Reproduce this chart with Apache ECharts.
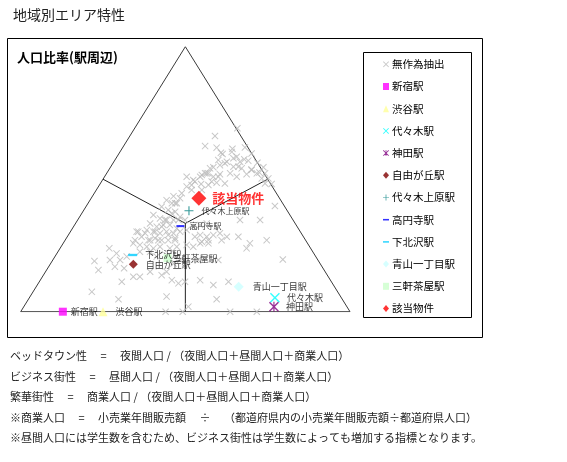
<!DOCTYPE html>
<html><head><meta charset="utf-8">
<script src="https://cdn.jsdelivr.net/npm/echarts@6/dist/echarts.min.js"></script>
<style>html,body{margin:0;padding:0;background:#fff}#c{width:567px;height:462px}</style>
</head><body><div id="c"></div>
<script>
// ---- data (triangle frame units: base 0..100, height 0..100) ----
const pageTitle = '地域別エリア特性';
const chartTitle = '人口比率(駅周辺)';
const sampleName = '無作為抽出';
const samplePoints = [
 [59.0,66.3],[65.8,69.2],[61.3,59.5],[64.3,61.5],[68.1,62.0],[70.1,59.7],[64.6,57.9],[62.6,56.6],[66.6,56.6],[69.1,57.0],
 [71.9,56.2],[73.7,54.5],[72.5,52.5],[74.2,52.2],[75.2,50.3],[76.2,48.2],[58.5,54.5],[60.5,55.3],[64.6,54.7],[67.1,54.1],
 [70.1,53.7],[56.5,52.2],[58.5,50.9],[60.5,51.9],[63.6,52.2],[65.6,50.9],[68.6,51.9],[54.5,50.9],[52.9,49.1],[54.8,48.2],
 [57.0,47.8],[59.5,48.7],[50.4,47.2],[51.9,45.9],[48.9,44.7],[46.4,43.6],[48.4,42.8],[44.3,42.1],[45.9,40.9],[47.4,40.9],
 [42.8,39.6],[44.8,38.4],[46.9,37.7],[40.3,36.5],[42.3,35.2],[44.3,34.6],[46.4,34.6],[48.4,35.8],[49.9,34.6],[39.3,33.3],
 [41.3,32.1],[43.3,32.7],[45.3,32.7],[47.4,31.4],[38.3,30.8],[40.3,30.2],[42.3,29.6],[44.3,30.2],[46.4,29.6],[48.4,30.2],
 [50.4,30.8],[52.4,32.1],[54.5,32.7],[56.5,33.3],[35.2,30.2],[36.7,28.3],[38.8,27.0],[40.8,27.7],[42.8,27.0],[44.8,27.0],
 [46.9,27.7],[54.5,28.9],[56.5,28.3],[58.5,28.9],[60.5,29.6],[62.6,28.3],[66.1,28.3],[69.6,25.8],[74.7,27.0],[34.2,25.8],
 [36.2,25.2],[38.3,24.5],[40.3,23.9],[42.3,24.5],[45.3,23.9],[47.4,24.5],[50.4,25.2],[52.4,24.5],[54.5,25.8],[57.0,25.8],
 [68.6,23.9],[26.9,23.9],[29.1,22.0],[30.2,19.5],[32.2,20.8],[36.2,22.6],[39.3,22.6],[41.3,20.8],[46.4,18.2],[48.4,19.5],
 [53.9,19.5],[56.0,20.1],[60.0,19.5],[79.6,19.7],[22.4,19.1],[23.6,15.7],[28.6,17.0],[31.4,16.4],[34.2,13.2],[36.2,13.2],
 [39.3,15.1],[42.8,13.8],[45.9,11.9],[47.9,10.7],[49.9,11.3],[54.5,11.9],[58.5,10.1],[21.6,7.5],[29.7,4.7],[44.3,5.7],
 [50.9,1.9],[59.5,4.7],[49.2,0],[44.0,0],[63.6,0],[71.7,0],[66.6,34.6],[72.7,34.6],[63.1,11.3],[27.1,19.5],
 [30.7,11.3],[44.3,15.1],[56.0,62.5],[59.5,61.9],[60.8,60.0],[64.1,60.3],[65.6,58.5],[67.9,57.5],[70.1,53.5],[71.7,52.2],
 [73.2,50.3],[74.2,48.4],[60.0,57.2],[62.0,56.0],[66.1,54.7],[57.5,54.1],[55.0,51.6],[57.0,52.2],[52.4,49.7],[77.2,39.9],
 [50.4,50.9],[51.9,47.8],[56.0,52.2],[58.0,49.1],[60.0,50.9],[62.0,48.4],[55.0,45.9],[46.9,40.9],[45.9,37.1],[43.8,34.6],
 [47.9,34.6],[42.8,32.1],[40.8,30.2],[37.8,29.6],[35.7,30.2],[39.3,27.0],[34.7,27.0],[44.8,28.9],[52.9,28.3],[55.0,26.4],
 [57.0,27.0],[46.9,27.0],[41.8,27.0],[61.0,27.0]
];
const stationNames = ['新宿駅','渋谷駅','代々木駅','神田駅','自由が丘駅','代々木上原駅','高円寺駅','下北沢駅','青山一丁目駅','三軒茶屋駅','該当物件'];
const stationPoints = [[12.8,0],[25.0,0],[77.2,5.3],[76.9,1.9],[34.2,17.9],[51.1,38.1],[48.5,32.3],[34.0,21.4],[66.2,9.4],[44.6,20.2],[54.1,42.8]];
const noteLines = [
 'ベッドタウン性　 =　 夜間人口 / （夜間人口＋昼間人口＋商業人口）',
 'ビジネス街性　 =　 昼間人口 / （夜間人口＋昼間人口＋商業人口）',
 '繁華街性　 =　 商業人口 / （夜間人口＋昼間人口＋商業人口）',
 '※商業人口　 =　 小売業年間販売額　 ÷　 （都道府県内の小売業年間販売額÷都道府県人口）',
 '※昼間人口には学生数を含むため、ビジネス街性は学生数によっても増加する指標となります。'
];
const triangleVertices = [[0,0],[100,0],[50,100],[0,0]];
const edgeMidpoints = [[25,50],[75,50],[50,0]];
const centroid = [50, 100/3];

// ---- styles ----
const FONT = '"Noto Sans CJK JP","Noto Sans",sans-serif';
const SYM_X = 'path://M0,1L1,0L5,4L9,0L10,1L6,5L10,9L9,10L5,6L1,10L0,9L4,5Z';
const SYM_PLUS = 'path://M4.4,0L5.6,0L5.6,4.4L10,4.4L10,5.6L5.6,5.6L5.6,10L4.4,10L4.4,5.6L0,5.6L0,4.4L4.4,4.4Z';
const SYM_AST = SYM_X + 'M4.4,0L5.6,0L5.6,10L4.4,10Z';
const SYM_DASH = 'path://M0,0M10,10M0,3.7L10,3.7L10,6.3L0,6.3Z';
const stationStyle = [
 {symbol:'rect', size:8, color:'#FF00FF', gap:4},
 {symbol:'triangle', size:9, color:'#FFFF99', gap:8},
 {symbol:SYM_X, size:10, color:'#00FFFF', gap:7},
 {symbol:SYM_AST, size:10, color:'#800080', gap:7},
 {symbol:'diamond', size:9, color:'#800000', gap:8},
 {symbol:SYM_PLUS, size:9, color:'#008080', gap:8, font:8},
 {symbol:SYM_DASH, size:8, color:'#0000FF', gap:5, font:8},
 {symbol:SYM_DASH, size:9, color:'#00CCFF', gap:8},
 {symbol:'diamond', size:10, color:'#CCFFFF', gap:9},
 {symbol:'rect', size:8, color:'#CCFFCC', gap:1},
 {symbol:'diamond', size:15, color:'#FF0000', gap:6, font:13, bold:true, labelColor:'#FF0000'}
];

const series = [];
series.push({type:'line', data:triangleVertices, symbol:'none', silent:true, z:1,
  lineStyle:{color:'#3a3a3a', width:1}, animation:false});
edgeMidpoints.forEach(m => series.push({type:'line', data:[centroid, m], symbol:'none', silent:true, z:1,
  lineStyle:{color:'#222', width:1}, animation:false}));
series.push({name:sampleName, type:'scatter', data:samplePoints, symbol:SYM_X, symbolSize:7, z:2,
  itemStyle:{color:'#b9b9b9'}, silent:true});
stationNames.forEach((n,i) => {
  const s = stationStyle[i];
  series.push({name:n, type:'scatter', data:[stationPoints[i]], symbol:s.symbol, symbolSize:s.size,
    z: i===10 ? 5 : 4, itemStyle:{color:s.color}, silent:true,
    label:{show:true, position:'right', distance:s.gap, formatter:'{a}', fontFamily:FONT,
      fontSize:s.font||9, fontWeight:s.bold?'bold':'normal', color:s.labelColor||'#000'}});
});

const graphics = [
  {type:'rect', shape:{x:7.5, y:38.5, width:475, height:299}, style:{fill:'none', stroke:'#000', lineWidth:1}, z:-1},
  {type:'rect', shape:{x:363.5, y:52.5, width:108, height:265}, style:{fill:'none', stroke:'#000', lineWidth:1}, z:-1},
  {type:'text', x:13, y:15, style:{text:pageTitle, fontSize:14, fontFamily:FONT, fill:'#222', verticalAlign:'middle'}},
  {type:'text', x:17, y:57, style:{text:chartTitle, fontSize:13, fontWeight:'bold', fontFamily:FONT, fill:'#000', verticalAlign:'middle'}}
];
noteLines.forEach((t,i) => graphics.push({type:'text', x:10, y:356 + i*20.5,
  style:{text:t, fontSize:11, fontFamily:FONT, fill:'#222', verticalAlign:'middle'}}));

const chart = echarts.init(document.getElementById('c'), null, {renderer:'canvas'});
chart.setOption({
  animation:false,
  backgroundColor:'#fff',
  textStyle:{fontFamily:FONT},
  grid:{left:20.7, top:46.7, width:329.3, height:265},
  xAxis:{type:'value', min:0, max:100, show:false},
  yAxis:{type:'value', min:0, max:100, show:false},
  legend:{orient:'vertical', left:383, top:58.3, padding:0, itemGap:10.2, itemWidth:6, itemHeight:7,
    selectedMode:false, data:[sampleName].concat(stationNames),
    textStyle:{fontSize:10.5, lineHeight:12, color:'#000', fontFamily:FONT, padding:[0,0,0,-2]}},
  graphic:graphics,
  series:series
});
</script></body></html>
